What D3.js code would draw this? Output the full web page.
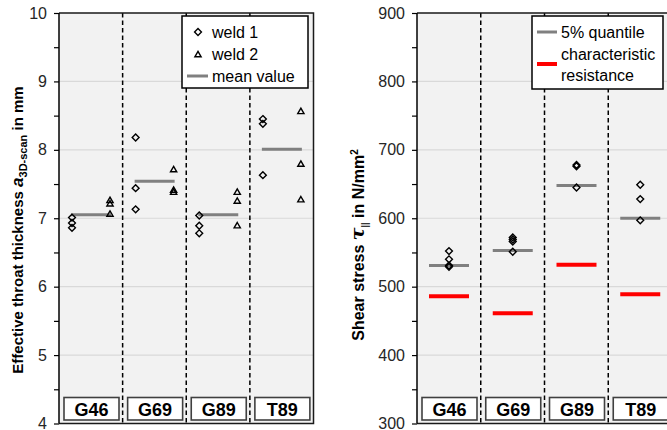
<!DOCTYPE html>
<html>
<head>
<meta charset="utf-8">
<script src="https://cdn.jsdelivr.net/npm/d3@7"></script>
<style>
  body { margin: 0; background: #fff; }
  svg { font-family: "Liberation Sans", Arial, sans-serif; }
</style>
</head>
<body>
<div id="chart"></div>
<script>
// Data
const categories = ["G46", "G69", "G89", "T89"];
const weld1 = [[7.01, 6.93, 6.86], [8.18, 7.44, 7.13], [7.04, 6.89, 6.78], [8.45, 8.38, 7.63]];
const weld2 = [[7.27, 7.22, 7.07], [7.72, 7.42, 7.39], [7.39, 7.26, 6.90], [8.57, 7.80, 7.28]];
const meanValue = [7.05, 7.54, 7.05, 8.01];

const shearPoints = [[552, 540, 531, 529], [572, 569, 566, 551], [678, 676, 645], [649, 628, 597]];
const quantile5 = [531, 553, 648, 600];
const charResistance = [486, 461, 532, 489];

const leftTicks = [4, 5, 6, 7, 8, 9, 10];
const rightTicks = [300, 400, 500, 600, 700, 800, 900];

const W = 667, H = 430;
const plotTop = 13, plotBottom = 423.5;

var svg = d3.select("#chart").append("svg")
  .attr("width", W).attr("height", H);

var diamond = d3.symbol().type(d3.symbolDiamond2).size(30);
var triangle = d3.symbol().type(d3.symbolTriangle2).size(28);

// Draws the shared frame: background, grid, dividers, axis, labels
function drawPanel(x0, x1, y, ticks, minorStep) {
  var x = d3.scaleBand().domain(categories).range([x0, x1]).padding(0);
  var g = svg.append("g");

  g.append("rect")
    .attr("x", x0).attr("y", plotTop)
    .attr("width", x1 - x0).attr("height", plotBottom - plotTop)
    .attr("fill", "#f2f2f2");

  // gridlines
  g.selectAll(".grid").data(ticks.slice(1, -1)).enter()
    .append("line")
    .attr("x1", x0).attr("x2", x1)
    .attr("y1", d => y(d)).attr("y2", d => y(d))
    .attr("stroke", "#d9d9d9").attr("stroke-width", 1.2);

  // dashed category dividers
  g.selectAll(".div").data(categories.slice(1)).enter()
    .append("line")
    .attr("x1", d => x(d)).attr("x2", d => x(d))
    .attr("y1", plotTop).attr("y2", plotBottom)
    .attr("stroke", "#000").attr("stroke-width", 1.5)
    .attr("stroke-dasharray", "4.5,3");

  // border
  g.append("path")
    .attr("d", "M" + x0 + "," + plotTop + "H" + x1 + "V" + plotBottom + "H" + x0)
    .attr("fill", "none").attr("stroke", "#1a1a1a").attr("stroke-width", 1.5);

  // y axis
  var minor = d3.range(ticks[0], ticks[ticks.length - 1] + 1e-9, minorStep);
  var axis = d3.axisLeft(y).tickValues(minor).tickSize(5)
    .tickFormat(d => ticks.indexOf(d) >= 0 ? d : "");
  var ax = g.append("g").attr("transform", "translate(" + x0 + ",0)").call(axis);
  ax.select(".domain").attr("stroke-width", 1.5).attr("d", "M-0," + plotTop + "V" + plotBottom);
  ax.selectAll(".tick line").attr("stroke-width", 1.2);
  ax.selectAll("text").attr("font-size", "16px").attr("fill", "#262626")
    .attr("font-family", "'Liberation Sans', Arial, sans-serif").attr("dx", "-4");

  // category boxes
  var lab = g.selectAll(".cat").data(categories).enter().append("g");
  lab.append("rect")
    .attr("x", d => x(d) + 5).attr("y", 397.5)
    .attr("width", 55).attr("height", 22.5)
    .attr("fill", "#fff").attr("stroke", "#404040").attr("stroke-width", 1.6);
  lab.append("text")
    .attr("x", d => x(d) + 32.5).attr("y", 415.5)
    .attr("text-anchor", "middle")
    .attr("font-size", "18px").attr("font-weight", "bold")
    .text(d => d);

  return x;
}

// ---------- left panel ----------
var yL = d3.scaleLinear().domain([4, 10]).range([plotBottom, plotTop]);
var xL = drawPanel(59, 313.5, yL, leftTicks, 0.5);
var sub = d3.scalePoint().domain(["weld 1", "weld 2"]).range([13, 51]);

var gL = svg.append("g");
categories.forEach(function (c, i) {
  gL.append("line")
    .attr("x1", xL(c) + sub("weld 1") - 1).attr("x2", xL(c) + sub("weld 2") + 1)
    .attr("y1", yL(meanValue[i])).attr("y2", yL(meanValue[i]))
    .attr("stroke", "#808080").attr("stroke-width", 3);
  gL.selectAll(".w1" + i).data(weld1[i]).enter().append("path")
    .attr("d", diamond)
    .attr("transform", d => "translate(" + (xL(c) + sub("weld 1")) + "," + yL(d) + ")")
    .attr("fill", "none").attr("stroke", "#000").attr("stroke-width", 1.4);
  gL.selectAll(".w2" + i).data(weld2[i]).enter().append("path")
    .attr("d", triangle)
    .attr("transform", d => "translate(" + (xL(c) + sub("weld 2")) + "," + (yL(d) + 1) + ")")
    .attr("fill", "none").attr("stroke", "#000").attr("stroke-width", 1.4);
});

// left legend
var legL = svg.append("g");
legL.append("rect").attr("x", 182).attr("y", 16).attr("width", 126).attr("height", 72)
  .attr("fill", "#fff").attr("stroke", "#000").attr("stroke-width", 1.5);
legL.append("path").attr("d", diamond).attr("transform", "translate(198,32)")
  .attr("fill", "none").attr("stroke", "#000").attr("stroke-width", 1.4);
legL.append("path").attr("d", triangle).attr("transform", "translate(198,55)")
  .attr("fill", "none").attr("stroke", "#000").attr("stroke-width", 1.4);
legL.append("line").attr("x1", 187).attr("x2", 208).attr("y1", 76).attr("y2", 76)
  .attr("stroke", "#808080").attr("stroke-width", 3);
["weld 1", "weld 2", "mean value"].forEach(function (t, i) {
  legL.append("text").attr("x", 212).attr("y", 38 + i * 22)
    .attr("font-size", "16px").text(t);
});

// left y label
var tl = svg.append("text")
  .attr("transform", "translate(23,230) rotate(-90)")
  .attr("text-anchor", "middle")
  .attr("font-size", "15px").attr("font-weight", "bold");
tl.append("tspan").text("Effective throat thickness  ");
tl.append("tspan").attr("font-style", "italic").attr("font-size", "17px").text("a");
tl.append("tspan").attr("font-size", "11px").attr("dy", "4").text("3D-scan");
tl.append("tspan").attr("dy", "-4").text("  in mm");

// ---------- right panel ----------
var yR = d3.scaleLinear().domain([300, 900]).range([plotBottom, plotTop]);
var xR = drawPanel(417, 672, yR, rightTicks, 50);

var gR = svg.append("g");
categories.forEach(function (c, i) {
  gR.append("line")
    .attr("x1", xR(c) + 12).attr("x2", xR(c) + 52)
    .attr("y1", yR(quantile5[i])).attr("y2", yR(quantile5[i]))
    .attr("stroke", "#808080").attr("stroke-width", 3);
  gR.append("line")
    .attr("x1", xR(c) + 12).attr("x2", xR(c) + 52)
    .attr("y1", yR(charResistance[i])).attr("y2", yR(charResistance[i]))
    .attr("stroke", "#ff0000").attr("stroke-width", 4);
  gR.selectAll(".s" + i).data(shearPoints[i]).enter().append("path")
    .attr("d", diamond)
    .attr("transform", d => "translate(" + (xR(c) + 32) + "," + yR(d) + ")")
    .attr("fill", "none").attr("stroke", "#000").attr("stroke-width", 1.4);
});

// right legend
var legR = svg.append("g");
legR.append("rect").attr("x", 532).attr("y", 16).attr("width", 131).attr("height", 73)
  .attr("fill", "#fff").attr("stroke", "#000").attr("stroke-width", 1.5);
legR.append("line").attr("x1", 537).attr("x2", 557).attr("y1", 32).attr("y2", 32)
  .attr("stroke", "#808080").attr("stroke-width", 3);
legR.append("line").attr("x1", 537).attr("x2", 557).attr("y1", 64).attr("y2", 64)
  .attr("stroke", "#ff0000").attr("stroke-width", 4);
["5% quantile", "characteristic", "resistance"].forEach(function (t, i) {
  legR.append("text").attr("x", 561).attr("y", 38 + i * 21.5)
    .attr("font-size", "16px").text(t);
});

// right y label
var tr = svg.append("text")
  .attr("transform", "translate(364,245) rotate(-90)")
  .attr("text-anchor", "middle")
  .attr("font-size", "16px").attr("font-weight", "bold");
tr.append("tspan").text("Shear stress  ");
tr.append("tspan").attr("font-style", "italic").attr("font-size", "19px")
  .attr("font-family", "'DejaVu Serif', serif").text("τ");
tr.append("tspan").attr("font-size", "9px").attr("dy", "4").text("||");
tr.append("tspan").attr("dy", "-4").text("  in N/mm");
tr.append("tspan").attr("font-size", "10px").attr("dy", "-6").text("2");
</script>
</body>
</html>
